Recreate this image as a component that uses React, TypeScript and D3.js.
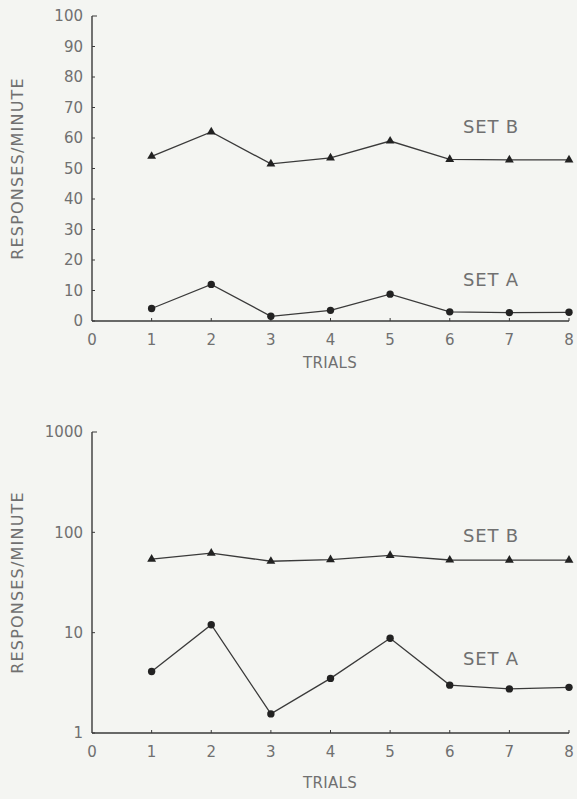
import React from "react";
import * as d3 from "d3";

// trial numbers and responses per minute
const trials = [1, 2, 3, 4, 5, 6, 7, 8];
const setB = [54, 62, 51.5, 53.5, 59, 53, 52.8, 52.8];
const setA = [4.1, 12, 1.55, 3.5, 8.8, 3, 2.75, 2.85];

const xTicks = [0, 1, 2, 3, 4, 5, 6, 7, 8];
const linearTicks = [0, 10, 20, 30, 40, 50, 60, 70, 80, 90, 100];
const logTicks = [1, 10, 100, 1000];

const W = 577;
const H = 799;
const INK = "#3a3a3a";
const TEXT = "#707070";
const FONT = "'DejaVu Sans', sans-serif";

const left = 92;
const right = 569;

type PanelProps = {
  log: boolean;
  top: number;
  bottom: number;
  labelB: number;
  labelA: number;
  titleY: number;
};

const Panel = ({ log, top, bottom, labelB, labelA, titleY }: PanelProps) => {
  const x = d3.scaleLinear().domain([0, 8]).range([left, right]);
  const y = log
    ? d3.scaleLog().domain([1, 1000]).range([bottom, top])
    : d3.scaleLinear().domain([0, 100]).range([bottom, top]);
  const ticks = log ? logTicks : linearTicks;

  const line = d3
    .line<number>()
    .x((_, i) => x(trials[i]))
    .y((d) => y(d));

  const tri = d3.symbol().type(d3.symbolTriangle).size(34)();

  return (
    <g>
      {/* y axis */}
      <line x1={left} x2={left} y1={top} y2={bottom} stroke={INK} strokeWidth={1.4} />
      {ticks.map((t, i) => (
        <g key={t}>
          <line
            x1={left}
            x2={left + (i === ticks.length - 1 ? 5 : 3)}
            y1={y(t)}
            y2={y(t)}
            stroke={INK}
            strokeWidth={1}
          />
          <text
            x={left - 9}
            y={y(t)}
            dy="0.36em"
            textAnchor="end"
            fontSize={15}
            fill={TEXT}
            fontFamily={FONT}
          >
            {t}
          </text>
        </g>
      ))}

      {/* x axis */}
      <line x1={left} x2={right} y1={bottom} y2={bottom} stroke={INK} strokeWidth={1.6} />
      {xTicks.map((t) => (
        <g key={t}>
          {t > 0 && (
            <line x1={x(t)} x2={x(t)} y1={bottom} y2={bottom - 3} stroke={INK} strokeWidth={1} />
          )}
          <text
            x={x(t)}
            y={bottom + 24}
            textAnchor="middle"
            fontSize={15}
            fill={TEXT}
            fontFamily={FONT}
          >
            {t}
          </text>
        </g>
      ))}

      <text
        x={330}
        y={titleY}
        textAnchor="middle"
        fontSize={15}
        letterSpacing={0.3}
        fill={TEXT}
        fontFamily={FONT}
      >
        TRIALS
      </text>
      <text
        transform={`translate(23, ${(top + bottom) / 2}) rotate(-90)`}
        textAnchor="middle"
        fontSize={16}
        letterSpacing={1.2}
        fill={TEXT}
        fontFamily={FONT}
      >
        RESPONSES/MINUTE
      </text>

      {/* series */}
      <path d={line(setB) ?? ""} fill="none" stroke={INK} strokeWidth={1.3} />
      <path d={line(setA) ?? ""} fill="none" stroke={INK} strokeWidth={1.3} />
      {setB.map((v, i) => (
        <path
          key={"b" + i}
          d={tri ?? ""}
          transform={`translate(${x(trials[i])}, ${y(v)})`}
          fill="#222"
        />
      ))}
      {setA.map((v, i) => (
        <circle key={"a" + i} cx={x(trials[i])} cy={y(v)} r={3.7} fill="#222" />
      ))}

      <text x={463} y={labelB} fontSize={18} letterSpacing={0.8} fill={TEXT} fontFamily={FONT}>
        SET B
      </text>
      <text x={463} y={labelA} fontSize={18} letterSpacing={0.8} fill={TEXT} fontFamily={FONT}>
        SET A
      </text>
    </g>
  );
};

export default function App() {
  return (
    <svg
      width={W}
      height={H}
      style={{ position: "absolute", left: 0, top: 0, background: "#f4f5f2" }}
    >
      <Panel log={false} top={16} bottom={321} labelB={133} labelA={286} titleY={368} />
      <Panel log={true} top={432} bottom={733} labelB={542} labelA={665} titleY={788} />
    </svg>
  );
}
